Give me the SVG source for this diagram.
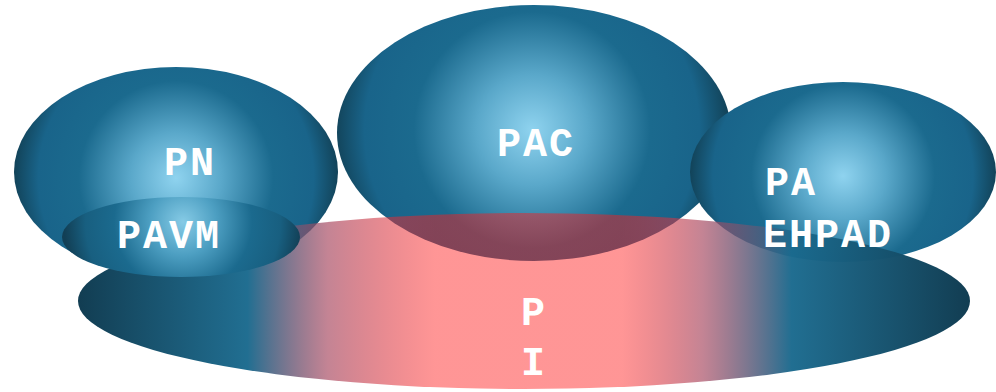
<svg xmlns="http://www.w3.org/2000/svg" width="996" height="392" viewBox="0 0 996 392">
  <defs>
    <radialGradient id="gPN" gradientUnits="userSpaceOnUse" cx="176" cy="178" r="162">
      <stop offset="0" stop-color="#8fd3ef"/>
      <stop offset="0.28" stop-color="#5aa8ca"/>
      <stop offset="0.6" stop-color="#1b6a8e"/>
      <stop offset="0.85" stop-color="#19648a"/>
      <stop offset="1" stop-color="#124359"/>
    </radialGradient>
    <radialGradient id="gPAC" gradientUnits="userSpaceOnUse" cx="532" cy="130" r="197">
      <stop offset="0" stop-color="#8fd3ef"/>
      <stop offset="0.28" stop-color="#5aa8ca"/>
      <stop offset="0.6" stop-color="#1b6a8e"/>
      <stop offset="0.85" stop-color="#19648a"/>
      <stop offset="1" stop-color="#124359"/>
    </radialGradient>
    <radialGradient id="gPA" gradientUnits="userSpaceOnUse" cx="843" cy="176" r="153">
      <stop offset="0" stop-color="#8fd3ef"/>
      <stop offset="0.28" stop-color="#5aa8ca"/>
      <stop offset="0.6" stop-color="#1b6a8e"/>
      <stop offset="0.85" stop-color="#19648a"/>
      <stop offset="1" stop-color="#124359"/>
    </radialGradient>
    <radialGradient id="gPAVM" gradientUnits="userSpaceOnUse" cx="183" cy="222" r="119">
      <stop offset="0" stop-color="#86cbe6"/>
      <stop offset="0.28" stop-color="#4d9fc2"/>
      <stop offset="0.58" stop-color="#1b6a8e"/>
      <stop offset="0.82" stop-color="#185f80"/>
      <stop offset="1" stop-color="#123f55"/>
    </radialGradient>
    <linearGradient id="gPI" x1="0" y1="0" x2="1" y2="0">
      <stop offset="0" stop-color="#123d52" stop-opacity="1"/>
      <stop offset="0.19" stop-color="#1a6a8e" stop-opacity="0.97"/>
      <stop offset="0.28" stop-color="#a84a62" stop-opacity="0.68"/>
      <stop offset="0.4" stop-color="#ff1a1a" stop-opacity="0.46"/>
      <stop offset="0.61" stop-color="#ff1a1a" stop-opacity="0.46"/>
      <stop offset="0.7" stop-color="#a84a62" stop-opacity="0.68"/>
      <stop offset="0.8" stop-color="#1a6a8e" stop-opacity="0.97"/>
      <stop offset="1" stop-color="#123d52" stop-opacity="1"/>
    </linearGradient>
    <style>
      .lbl { font-family: "Liberation Mono", "Courier New", monospace; font-weight: bold; font-size: 40px; letter-spacing: 2px; fill: #ffffff; }
    </style>
  </defs>

  <g id="PN">
    <ellipse cx="176" cy="172" rx="162" ry="105" fill="url(#gPN)"/>
  </g>
  <g id="PAC">
    <ellipse cx="534" cy="133" rx="197" ry="128" fill="url(#gPAC)"/>
  </g>
  <g id="PA-EHPAD">
    <ellipse cx="843" cy="172" rx="153" ry="90" fill="url(#gPA)"/>
  </g>
  <g id="PI">
    <ellipse cx="524" cy="301" rx="446" ry="88" fill="url(#gPI)"/>
  </g>
  <g id="PAVM">
    <ellipse cx="181" cy="237" rx="119" ry="40" fill="url(#gPAVM)"/>
  </g>

  <g id="labels">
    <text class="lbl" x="164" y="175">PN</text>
    <text class="lbl" x="497" y="156">PAC</text>
    <text class="lbl" x="765" y="195">PA</text>
    <text class="lbl" x="763" y="247">EHPAD</text>
    <text class="lbl" x="117" y="248">PAVM</text>
    <text class="lbl" x="534" y="325" text-anchor="middle">P</text>
    <text class="lbl" x="534" y="375" text-anchor="middle">I</text>
  </g>
  <g id="connectors"/>
</svg>
